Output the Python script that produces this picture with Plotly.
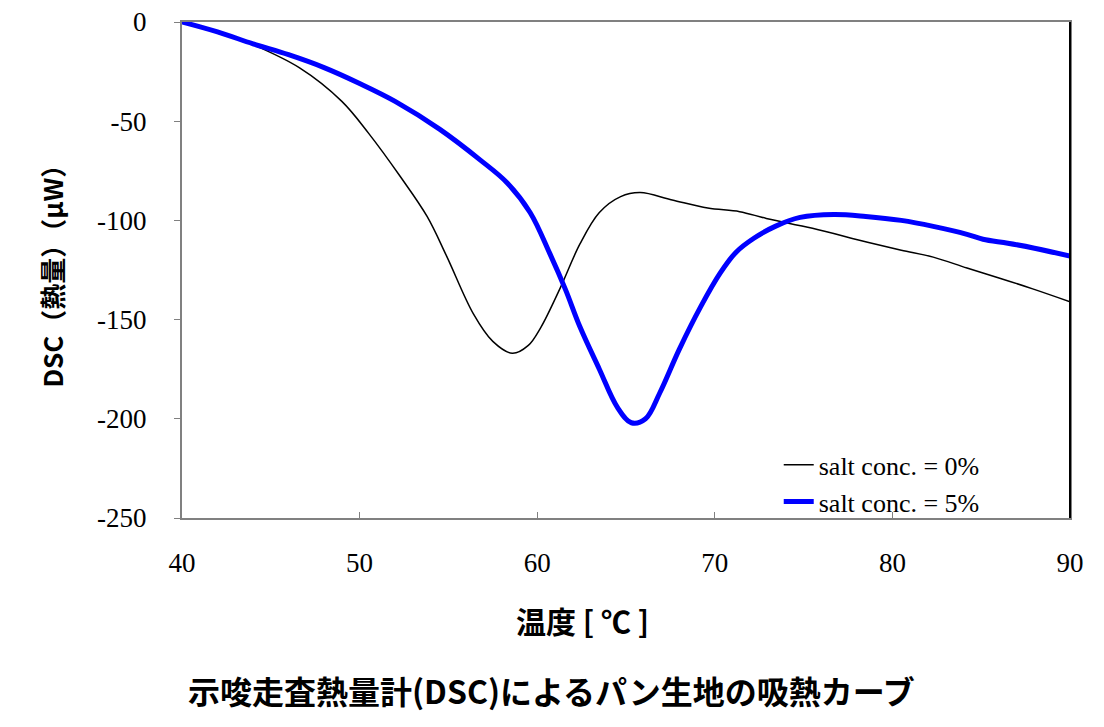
import plotly.graph_objects as go

# salt conc. = 0%
temp_0 = [40, 42, 43.8, 46.6, 49.0, 50.5, 52.3, 53.8, 54.9, 56.4, 57.5, 58.6, 59.5, 60.2, 61.3, 62.4, 63.5, 64.7, 65.8, 67.6, 69.6, 71.4, 72.9, 75.5, 78.6, 80.5, 82.3, 84.2, 86, 87.9, 90]
dsc_0 = [0, -4.5, -10.6, -23, -40, -56, -78, -98, -118, -147, -161, -167, -163, -154, -134, -112, -96, -88, -86, -89.7, -93.8, -95.6, -99, -104, -111, -115, -118.5, -124, -129, -134.5, -141]

# salt conc. = 5%
temp_5 = [40, 42, 44, 46, 48, 50, 52, 54.5, 56.8, 58.3, 59.6, 60.7, 61.6, 62.4, 63.5, 64.5, 65.3, 66.1, 66.9, 68, 69.2, 70.3, 71.2, 72.2, 73.4, 74.8, 76.7, 78.5, 80.5, 82.3, 84.2, 85.1, 86.5, 88, 90]
dsc_5 = [0, -5, -11, -16.5, -23, -31, -40, -54, -69.6, -81, -96, -116.5, -135, -153.5, -175, -194, -202, -200, -187, -165, -143.6, -126.6, -116, -109, -103, -98.5, -97, -98, -100, -103, -107, -109.5, -111.5, -114, -118]

x_ticks = [40, 50, 60, 70, 80, 90]
y_ticks = [0, -50, -100, -150, -200, -250]

fig = go.Figure()
fig.add_trace(go.Scatter(x=temp_0, y=dsc_0, mode="lines", name="salt conc. = 0%",
                         line=dict(color="black", width=1.5, shape="spline", smoothing=1.0)))
fig.add_trace(go.Scatter(x=temp_5, y=dsc_5, mode="lines", name="salt conc. = 5%",
                         line=dict(color="#0000ff", width=5, shape="spline", smoothing=1.0)))

serif = "Liberation Serif, Times New Roman, serif"
cjk = "Noto Sans CJK JP, sans-serif"

fig.update_layout(
    width=1104, height=727,
    margin=dict(l=182, r=34, t=22, b=209, autoexpand=False),
    paper_bgcolor="white", plot_bgcolor="white",
    showlegend=True,
    legend=dict(x=0.672, y=0.07, xanchor="left", yanchor="middle",
                font=dict(family=serif, size=26, color="black"),
                bgcolor="rgba(0,0,0,0)", borderwidth=0, tracegroupgap=0,
                itemwidth=30),
    xaxis=dict(range=[40, 90], tickvals=x_ticks, ticktext=[str(v) for v in x_ticks],
               showgrid=False, zeroline=False, showline=True, linecolor="#808080", linewidth=2,
               mirror=True, ticks="inside", ticklen=6, tickcolor="#808080", tickwidth=1,
               automargin=False,
               tickfont=dict(family=serif, size=27, color="black"), ticklabelstandoff=20),
    yaxis=dict(range=[-250, 0], tickvals=y_ticks, ticktext=[str(v) for v in y_ticks],
               showgrid=False, zeroline=False, showline=True, linecolor="#808080", linewidth=2,
               mirror=True, ticks="outside", ticklen=6, tickcolor="#808080", tickwidth=1,
               automargin=False,
               tickfont=dict(family=serif, size=27, color="black"), ticklabelstandoff=22),
    shapes=[dict(type="line", xref="paper", yref="paper", x0=1, x1=1, y0=0, y1=1,
                 line=dict(color="black", width=2))],
    annotations=[
        dict(text="<b>DSC（熱量）（μW）</b>", xref="paper", yref="paper", x=-0.148, y=0.5,
             xanchor="center", yanchor="middle", textangle=-90, showarrow=False,
             font=dict(family=cjk, size=26, color="black")),
        dict(text="<b>温度 [&nbsp;℃&nbsp;]</b>", xref="paper", yref="paper", x=(582 - 182) / 888, y=-(620 - 518) / 496,
             xanchor="center", yanchor="middle", showarrow=False,
             font=dict(family=cjk, size=30, color="black")),
        dict(text="<b>示唆走査熱量計(DSC)によるパン生地の吸熱カーブ</b>", xref="paper", yref="paper",
             x=(551 - 182) / 888, y=-(690 - 518) / 496,
             xanchor="center", yanchor="middle", showarrow=False,
             font=dict(family=cjk, size=32, color="black")),
    ],
)

fig.write_html("out.html")
